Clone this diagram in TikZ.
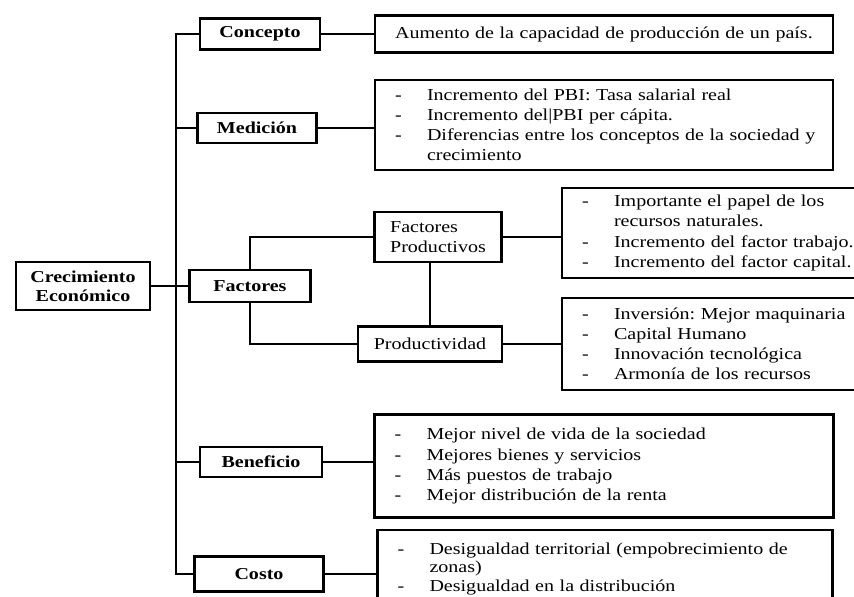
\documentclass[tikz,border=0pt]{standalone}
\usepackage{fontspec}
\setmainfont{Liberation Serif}[FakeStretch=1.2]
\usepackage{tikz}

\hyphenpenalty=10000
\newcommand{\itm}[1]{\noindent\hangindent=0.84cm\hangafter=1\makebox[0.84cm][l]{\hspace{0.2cm}-}#1\par}

\begin{document}
\frenchspacing
\begin{tikzpicture}[x=0.02cm, y=-0.02cm,
    every node/.style={font=\fontsize{9.5}{11.4}\selectfont},
    lbl/.style={draw, line width=1.2pt, font=\fontsize{9.5}{10.8}\selectfont\bfseries, align=center},
    sub/.style={draw, line width=1.2pt, align=left},
    txt/.style={draw, line width=1.2pt, align=left, inner xsep=0.2cm},
    link/.style={line width=0.8pt}]
        \useasboundingbox (0,0) rectangle (854,597);
        \clip (0,0) rectangle (854,597);
        % Root
        \node[lbl, minimum width=2.68cm, minimum height=0.96cm] (ce) at (83,286)
          {Crecimiento\\Económico};
        % Branches
        \node[lbl, minimum width=2.40cm, minimum height=0.62cm] (con) at (260,34) {Concepto};
        \node[lbl, minimum width=2.38cm, minimum height=0.60cm] (med) at (257,128) {Medición};
        \node[lbl, minimum width=2.42cm, minimum height=0.64cm] (fac) at (250,286) {Factores};
        \node[lbl, minimum width=2.44cm, minimum height=0.60cm] (ben) at (261,462) {Beneficio};
        \node[lbl, minimum width=2.58cm, minimum height=0.70cm] (cos) at (259,574) {Costo};
        % Factores split
        \node[sub, minimum width=2.54cm, minimum height=1.00cm] (fp) at (438,237)
          {Factores\\Productivos};
        \node[sub, minimum width=2.88cm, minimum height=0.70cm] (prod) at (430,344) {Productividad};
        % Description boxes
        \node[txt, text width=8.76cm, minimum height=0.74cm] (t1) at (604,34)
          {\hspace{0.2cm}Aumento de la capacidad de producción de un país.};
        \node[txt, text width=8.76cm, minimum height=1.80cm] (t2) at (604,125)
          {\itm{Incremento del PBI: Tasa salarial real}
           \itm{Incremento del|PBI per cápita.}
           \itm{Diferencias entre los conceptos de la sociedad y\newline crecimiento}};
        \node[txt, text width=6.36cm, minimum height=1.80cm] (t3) at (731,233)
          {\itm{Importante el papel de los\newline recursos naturales.}
           \itm{Incremento del factor trabajo.}
           \itm{Incremento del factor capital.}};
        \node[txt, text width=6.36cm, minimum height=1.84cm] (t4) at (731,344)
          {\itm{Inversión: Mejor maquinaria}
           \itm{Capital Humano}
           \itm{Innovación tecnológica}
           \itm{Armonía de los recursos}};
        \node[txt, text width=8.78cm, minimum height=2.06cm] (t5) at (604,466)
          {\itm{Mejor nivel de vida de la sociedad}
           \itm{Mejores bienes y servicios}
           \itm{Más puestos de trabajo}
           \itm{Mejor distribución de la renta}};
        \node[txt, text width=8.70cm, minimum height=1.56cm,
          font=\fontsize{9.5}{10.4}\selectfont] (t6) at (605,569)
          {\itm{Desigualdad territorial (empobrecimiento de\newline zonas)}
           \itm{Desigualdad en la distribución}};
        % Trunk
        \coordinate (trunk) at (176,0);
        \draw[link] (con.west) -- (con.west -| trunk) -- (cos.west -| trunk) -- (cos.west);
        \draw[link] (med.west) -- (med.west -| trunk);
        \draw[link] (ben.west) -- (ben.west -| trunk);
        \draw[link] (ce.east) -- (fac.west);
        % Factores links
        \draw[link] (fac.north) |- (fp.west);
        \draw[link] (fac.south) |- (prod.west);
        \draw[link] (prod.north) -- (prod.north |- fp.south);
        % To descriptions
        \draw[link] (con.east) -- (con.east -| t1.west);
        \draw[link] (med.east) -- (med.east -| t2.west);
        \draw[link] (fp.east) -- (fp.east -| t3.west);
        \draw[link] (prod.east) -- (prod.east -| t4.west);
        \draw[link] (ben.east) -- (ben.east -| t5.west);
        \draw[link] (cos.east) -- (cos.east -| t6.west);
      \end{tikzpicture}
\end{document}
